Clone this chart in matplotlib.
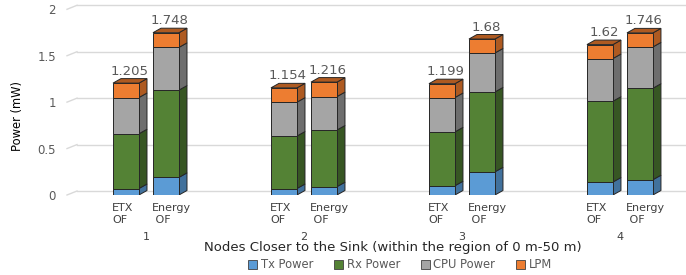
import matplotlib
matplotlib.use('Agg')
import matplotlib.pyplot as plt
from matplotlib.patches import Patch

# values (mW)
groups = ['1', '2', '3', '4']
schemes = ['ETX\nOF', 'Energy\n OF']
tx_etx = [0.07, 0.07, 0.10, 0.14]
rx_etx = [0.59, 0.565, 0.58, 0.87]
cpu_etx = [0.39, 0.365, 0.37, 0.46]
lpm_etx = [0.155, 0.154, 0.149, 0.15]
tx_energy = [0.19, 0.09, 0.25, 0.165]
rx_energy = [0.94, 0.61, 0.86, 0.985]
cpu_energy = [0.46, 0.36, 0.42, 0.445]
lpm_energy = [0.158, 0.156, 0.15, 0.151]
parts = ['Tx Power', 'Rx Power', 'CPU Power', 'LPM']

front = ['#5B9BD5', '#548235', '#A5A5A5', '#ED7D31']
side = ['#41719C', '#375623', '#6E6E6E', '#AE5A21']
edge = '#262626'

plt.rcParams['font.family'] = ['DejaVu Sans']

W, H = 686, 275
fig = plt.figure(figsize=(W / 100, H / 100), dpi=100)
left_px, right_px, base_px, top_px = 67, 686, 195, 9.3
ax = fig.add_axes([left_px / W, (H - base_px) / H, (right_px - left_px) / W, (base_px - top_px) / H])
xlim = (-0.5, 3.418)
ax.set_xlim(*xlim)
ax.set_ylim(0, 2)
for s in ax.spines.values():
    s.set_visible(False)
ax.set_xticks([])

ux = (xlim[1] - xlim[0]) / (right_px - left_px)   # data units per pixel
uy = 2 / (base_px - top_px)

# back-wall gridlines with a slanted stub towards the labels
gdx, gdy = 10 * ux, 4 * uy
yt = [0, 0.5, 1, 1.5, 2]
for v in yt:
    ax.plot([xlim[0] + gdx, xlim[1]], [v + gdy, v + gdy], color='#D9D9D9', lw=1, zorder=0, clip_on=False)
    ax.plot([xlim[0], xlim[0] + gdx], [v, v + gdy], color='#D9D9D9', lw=1, zorder=0, clip_on=False)
ax.set_yticks(yt, ['0', '0.5', '1', '1.5', '2'])
ax.tick_params(axis='y', length=0, pad=8, labelsize=8.5, labelcolor='#595959')

bw = 26 * ux
off = 20 * ux
dx, dy = 8 * ux, 4.5 * uy

series = [
    (-off, [tx_etx, rx_etx, cpu_etx, lpm_etx], schemes[0]),
    (off, [tx_energy, rx_energy, cpu_energy, lpm_energy], schemes[1]),
]

for shift, stack, lab in series:
    xs = [i + shift for i in range(len(groups))]
    bottoms = [0.0] * len(groups)
    for k, vals in enumerate(stack):
        for x, b, h in zip(xs, bottoms, vals):
            xr = x + bw / 2
            ax.fill([xr, xr + dx, xr + dx, xr], [b, b + dy, b + h + dy, b + h],
                    facecolor=side[k], edgecolor=edge, lw=0.7, zorder=2)
        ax.bar(xs, vals, bw, bottom=bottoms, color=front[k], edgecolor=edge, lw=0.7, zorder=3)
        bottoms = [b + h for b, h in zip(bottoms, vals)]
    for x, t in zip(xs, bottoms):
        xl, xr = x - bw / 2, x + bw / 2
        ax.fill([xl, xl + dx, xr + dx, xr], [t, t + dy, t + dy, t],
                facecolor=side[3], edgecolor=edge, lw=0.7, zorder=2)
        ax.annotate(f'{round(t, 3):g}', (x + dx / 2, t + dy), xytext=(0, 1), textcoords='offset pixels',
                    ha='center', va='bottom', fontsize=9.5, color='#595959')
        ax.annotate(lab, (xl, 0), xytext=(-1, -8), textcoords='offset pixels',
                    ha='left', va='top', fontsize=8, color='#404040', annotation_clip=False,
                    linespacing=1.2)

for i, g in enumerate(groups):
    ax.annotate(g, (i, 0), xytext=(0, -42), textcoords='offset pixels',
                ha='center', va='center', fontsize=8, color='#404040', annotation_clip=False)

fig.text(393 / W, (H - 247) / H, 'Nodes Closer to the Sink (within the region of 0 m-50 m)',
         ha='center', va='center', fontsize=9.5, color='#262626')
fig.text(17 / W, (H - 116) / H, 'Power (mW)', rotation=90, ha='center', va='center',
         fontsize=8.3, color='#000000')

handles = [Patch(facecolor=c, edgecolor='#404040', lw=0.6) for c in front]
fig.legend(handles, parts, loc='center', bbox_to_anchor=(400 / W, (H - 265) / H), ncol=4,
           frameon=False, fontsize=8.3, handlelength=0.8, handleheight=0.8,
           columnspacing=1.8, handletextpad=0.3, labelcolor='#595959')

fig.savefig('out.png', dpi=100)
